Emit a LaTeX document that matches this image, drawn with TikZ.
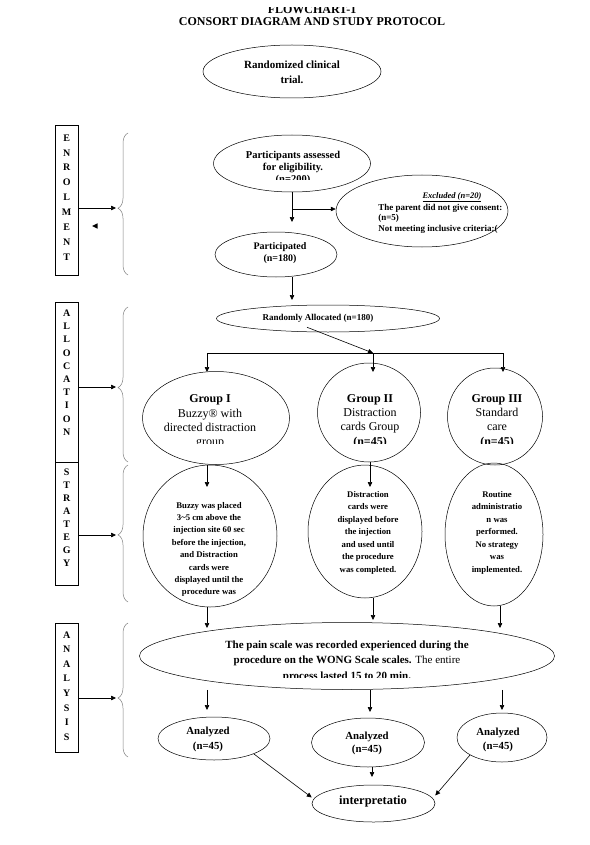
\documentclass[tikz,border=0pt]{standalone}
\usepackage{fontspec}
\setmainfont{Liberation Serif}
\usetikzlibrary{shapes.geometric,arrows.meta,decorations.pathreplacing,calc}
\begin{document}
\begin{tikzpicture}[x=1pt,y=-1pt,
  line width=0.6pt,
  ell/.style={draw, ellipse, inner sep=0pt, line width=0.5pt},
  arr/.style={-{Triangle[length=5pt,width=4.5pt]}, line width=0.6pt},
  lbox/.style={draw, rectangle, minimum width=23pt, inner sep=0pt, line width=0.6pt},
  letters/.style={align=center, inner sep=0pt},
  brc/.style={draw=gray, line width=0.5pt, decorate},
  txt/.style={align=center, inner sep=0pt},
]
\clip (0,0) rectangle (589,845);
\fill[white] (0,0) rectangle (589,845);

% titles
\begin{scope}
\clip (0,7.5) rectangle (589,845);
\node[txt, font=\fontsize{12}{14}\selectfont\bfseries] (tt1) at (312,9.5) {FLOWCHART-1};
\end{scope}
\node[txt, font=\fontsize{12}{14}\selectfont\bfseries] (tt2) at (312,22) {CONSORT DIAGRAM AND STUDY PROTOCOL};

% side boxes
\node[lbox, minimum height=150pt] (enr) at (66.5,200) {};
\node[letters, font=\fontsize{10}{14.9}\selectfont\bfseries] (enrt) at (66.7,197.5) {E\\N\\R\\O\\L\\M\\E\\N\\T};
\node[lbox, minimum height=160pt] (alo) at (66.5,382) {};
\node[letters, font=\fontsize{10}{13.2}\selectfont\bfseries] (alot) at (66.7,372.5) {A\\L\\L\\O\\C\\A\\T\\I\\O\\N};
\node[lbox, minimum height=123pt] (stg) at (66.5,523.5) {};
\node[letters, font=\fontsize{10}{13}\selectfont\bfseries] (stgt) at (66.7,517.5) {S\\T\\R\\A\\T\\E\\G\\Y};
\node[lbox, minimum height=129pt] (ana) at (66.5,687.5) {};
\node[letters, font=\fontsize{10}{14.6}\selectfont\bfseries] (anat) at (66.7,686) {A\\N\\A\\L\\Y\\S\\I\\S};

% braces
\draw[brc, decoration={brace, amplitude=10pt, aspect=0.47}] (128,275) -- (128,133);
\draw[brc, decoration={brace, amplitude=10pt, aspect=0.48}] (128,462) -- (128,307);
\draw[brc, decoration={brace, amplitude=10pt, aspect=0.49}] (128,602) -- (128,465);
\draw[brc, decoration={brace, amplitude=10pt, aspect=0.44}] (128,757) -- (128,623);
\coordinate (b1) at (116,208);
\coordinate (b2) at (116,387);
\coordinate (b3) at (116,535);
\coordinate (b4) at (116,698);
\draw[arr] (enr.east |- b1) -- (b1);
\draw[arr] (alo.east |- b2) -- (b2);
\draw[arr] (stg.east |- b3) -- (b3);
\draw[arr] (ana.east |- b4) -- (b4);
\fill (92,226) -- (97.5,223.3) -- (97.5,228.7) -- cycle;

% main flow
\node[ell, minimum width=178pt, minimum height=53pt] (e1) at (292,71.5) {};
\node[txt, font=\fontsize{11}{15}\selectfont\bfseries] (e1t) at (292,72.5) {Randomized clinical\\trial.};

\node[ell, minimum width=157pt, minimum height=57pt] (e2) at (292,163.5) {};
\begin{scope}
\clip (200,140) rectangle (390,180);
\node[txt, font=\fontsize{10.5}{12}\selectfont\bfseries] (e2t) at (293,167.5) {Participants assessed\\for eligibility.\\(n=200)};
\end{scope}

\coordinate (c1) at (292,222);
\coordinate (c2) at (292,209);
\draw[arr] (e2.south) -- (c1);

\node[ell, minimum width=172pt, minimum height=72pt] (ex) at (422,211) {};
\node[txt, font=\fontsize{8.5}{10.5}\selectfont\bfseries] (ext1) at (452,197) {\underline{\textit{Excluded (n=20)}}};
\node[inner sep=0pt, align=left, anchor=west, font=\fontsize{9}{10.5}\selectfont\bfseries] (ext2) at (378,218.5) {The parent did not give consent:\\(n=5)\\Not meeting inclusive criteria:(};
\draw[arr] (c2) -- (c2 -| ex.west);

\node[ell, minimum width=122pt, minimum height=45pt] (e4) at (276,254.5) {};
\node[txt, font=\fontsize{10}{12}\selectfont\bfseries] (e4t) at (280,253) {Participated\\(n=180)};

\coordinate (c3) at (292,300);
\draw[arr] (e4.south -| c3) -- (c3);

\node[ell, minimum width=223pt, minimum height=27pt] (e5) at (328,318.5) {};
\node[txt, font=\fontsize{9}{11}\selectfont\bfseries] (e5t) at (318,318) {Randomly Allocated (n=180)};

\coordinate (j) at (373,353);
\coordinate (jl) at (207,353);
\coordinate (jr) at (503,353);
\draw[arr] ([xshift=-21pt,yshift=5pt]e5.south) -- (j);
\draw (jl) -- (jr);

% groups
\node[ell, minimum width=147pt, minimum height=93pt] (g1) at (216,418) {};
\node[ell, minimum width=103pt, minimum height=99pt] (g2) at (369,412.5) {};
\node[ell, minimum width=95pt, minimum height=97pt] (g3) at (495,416.5) {};
\coordinate (ga) at (207,372);
\coordinate (gb) at (373,372);
\coordinate (gc) at (503,372);
\draw[arr] (jl) -- (ga);
\draw[arr] (j) -- (gb);
\draw[arr] (jr) -- (gc);
\begin{scope}
\clip (100,380) rectangle (560,443.5);
\node[txt, font=\fontsize{12}{14.2}\selectfont] (g1t) at (210,421.5) {\textbf{Group I}\\Buzzy® with\\directed distraction\\group};
\node[txt, font=\fontsize{12}{14.2}\selectfont] (g2t) at (370,421) {\textbf{Group II}\\Distraction\\cards Group\\\textbf{(n=45)}};
\node[txt, font=\fontsize{12}{14.2}\selectfont] (g3t) at (497,421) {\textbf{Group III}\\Standard\\care\\\textbf{(n=45)}};
\end{scope}

% strategy
\node[ell, minimum width=134pt, minimum height=142pt] (s1) at (210,536) {};
\node[ell, minimum width=114pt, minimum height=133pt] (s2) at (365,531.5) {};
\node[ell, minimum width=98pt, minimum height=143pt] (s3) at (494,534.5) {};
\coordinate (p1) at (207,487);
\coordinate (p2) at (370,487);
\draw[arr] (p1 |- g1.south) -- (p1);
\draw[arr] (p2 |- g2.south) -- (p2);
\begin{scope}
\clip (100,480) rectangle (560,595);
\node[txt, font=\fontsize{8.7}{12.4}\selectfont\bfseries] (s1t) at (209,549.5) {Buzzy was placed\\3\textasciitilde5 cm above the\\injection site 60 sec\\before the injection,\\and Distraction\\cards were\\displayed until the\\procedure was};
\end{scope}
\node[txt, font=\fontsize{8.7}{12.5}\selectfont\bfseries] (s2t) at (368,532.5) {Distraction\\cards were\\displayed before\\the injection\\and used until\\the procedure\\was completed.};
\node[txt, font=\fontsize{8.7}{12.5}\selectfont\bfseries] (s3t) at (497,532.5) {Routine\\administratio\\n was\\performed.\\No strategy\\was\\implemented.};

% analysis
\node[ell, minimum width=415pt, minimum height=67pt] (a) at (347,656) {};
\coordinate (q1) at (207,628);
\coordinate (q2) at (373,620);
\coordinate (q3) at (500,628);
\draw[arr] (q1 |- s1.south) -- (q1);
\draw[arr] (q2 |- s2.south) -- (q2);
\draw[arr] (q3 |- s3.south) -- (q3);
\begin{scope}
\clip (140,630) rectangle (560,677);
\node[txt, font=\fontsize{11}{15.5}\selectfont\bfseries] (at) at (347,661) {The pain scale was recorded experienced during the\\procedure on the WONG Scale scales. \mdseries The entire\\process \bfseries lasted 15 to 20 min.};
\end{scope}

\node[ell, minimum width=112pt, minimum height=43pt] (n1) at (214,738.5) {};
\node[ell, minimum width=113pt, minimum height=49pt] (n2) at (368,742.5) {};
\node[ell, minimum width=90pt, minimum height=49pt] (n3) at (502,737.5) {};
\node[txt, font=\fontsize{10.8}{15}\selectfont\bfseries] (n1t) at (208,739.5) {Analyzed\\(n=45)};
\node[txt, font=\fontsize{10.8}{13.5}\selectfont\bfseries] (n2t) at (367,743.5) {Analyzed\\(n=45)};
\node[txt, font=\fontsize{10.8}{14}\selectfont\bfseries] (n3t) at (498,740) {Analyzed\\(n=45)};
\coordinate (r1) at (207,710);
\coordinate (r2) at (370,712);
\coordinate (r3) at (502,710);
\draw[arr] (r1 |- a.south) -- (r1);
\draw[arr] (r2 |- a.south) -- (r2);
\draw[arr] (r3 |- a.south) -- (r3);

\node[ell, minimum width=123pt, minimum height=37pt] (i) at (373.5,803.5) {};
\node[txt, font=\fontsize{12.5}{13}\selectfont\bfseries] (it) at (373,801) {interpretatio};
\coordinate (t) at (372,777);
\draw[arr] (n1.south east) -- ([yshift=6pt]i.west);
\draw[arr] (n2.south -| t) -- (t);
\draw[arr] (n3.south west) -- ([yshift=8pt]i.east);
\end{tikzpicture}
\end{document}
